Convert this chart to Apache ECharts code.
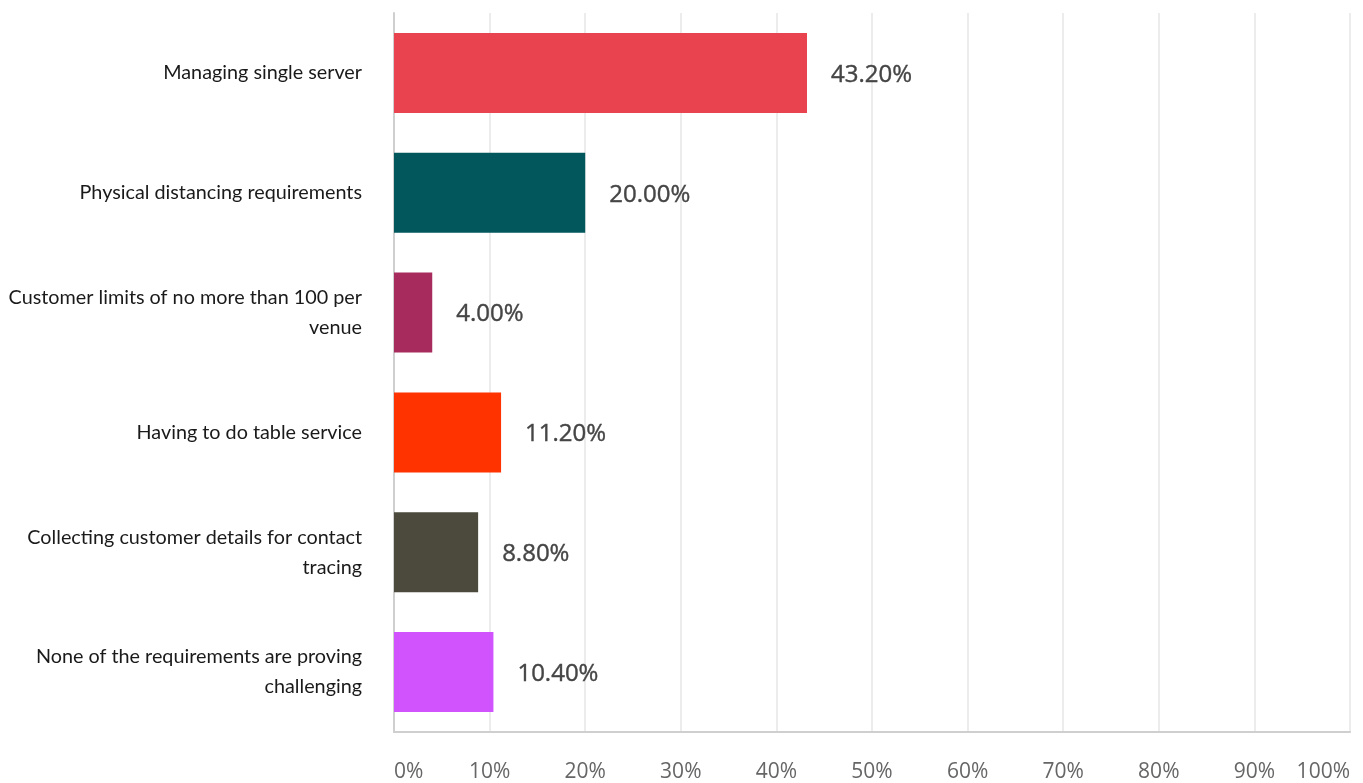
<!DOCTYPE html>
<html>
<head>
<meta charset="utf-8">
<script src="https://cdn.jsdelivr.net/npm/echarts@6/dist/echarts.min.js"></script>
<style>
  html, body { margin: 0; padding: 0; background: #ffffff; }
  #chart { width: 1363px; height: 783px; }
</style>
</head>
<body>
<div id="chart"></div>
<script>
// Survey responses: which requirement is proving most challenging
const categories = [
  'Managing single server',
  'Physical distancing requirements',
  'Customer limits of no more than 100 per\nvenue',
  'Having to do table service',
  'Collecting customer details for contact\ntracing',
  'None of the requirements are proving\nchallenging'
];
const values = [43.2, 20.0, 4.0, 11.2, 8.8, 10.4];
const barColors = ['#E8434F', '#02575D', '#A72B5D', '#FF3300', '#4B4A3D', '#D153FE'];
const tickValues = [0, 10, 20, 30, 40, 50, 60, 70, 80, 90, 100];

const chart = echarts.init(document.getElementById('chart'), null, { renderer: 'canvas' });

chart.setOption({
  backgroundColor: '#ffffff',
  animation: false,
  grid: { left: 394, right: 13, top: 13, bottom: 50, containLabel: false },
  xAxis: {
    type: 'value',
    min: tickValues[0],
    max: tickValues[tickValues.length - 1],
    interval: 10,
    axisLine: { show: true, lineStyle: { color: '#cfcfcf', width: 2 } },
    axisTick: { show: false },
    splitLine: { show: true, lineStyle: { color: '#ececec', width: 2 } },
    axisLabel: {
      formatter: '{value}%',
      color: '#666666',
      fontFamily: 'Open Sans',
      fontSize: 21,
      margin: 30,
      alignMinLabel: 'left',
      alignMaxLabel: 'right'
    }
  },
  yAxis: {
    type: 'category',
    data: categories,
    inverse: true,
    axisLine: { show: true, lineStyle: { color: '#cfcfcf', width: 2 } },
    axisTick: { show: false },
    splitLine: { show: false },
    axisLabel: {
      color: '#1a1a1a',
      fontFamily: 'Lato',
      fontSize: 19.8,
      lineHeight: 30,
      margin: 32,
      align: 'right',
      padding: [5, 0, 0, 0]
    }
  },
  series: [{
    type: 'bar',
    data: values.map((v, i) => ({ value: v, itemStyle: { color: barColors[i] } })),
    barWidth: '66.7%',
    label: {
      show: true,
      position: 'right',
      distance: 24,
      offset: [0, 2],
      formatter: p => p.value.toFixed(2) + '%',
      color: '#454545',
      fontFamily: 'Open Sans',
      fontSize: 24,
      textBorderColor: '#454545',
      textBorderWidth: 0.4
    }
  }]
});
</script>
</body>
</html>
